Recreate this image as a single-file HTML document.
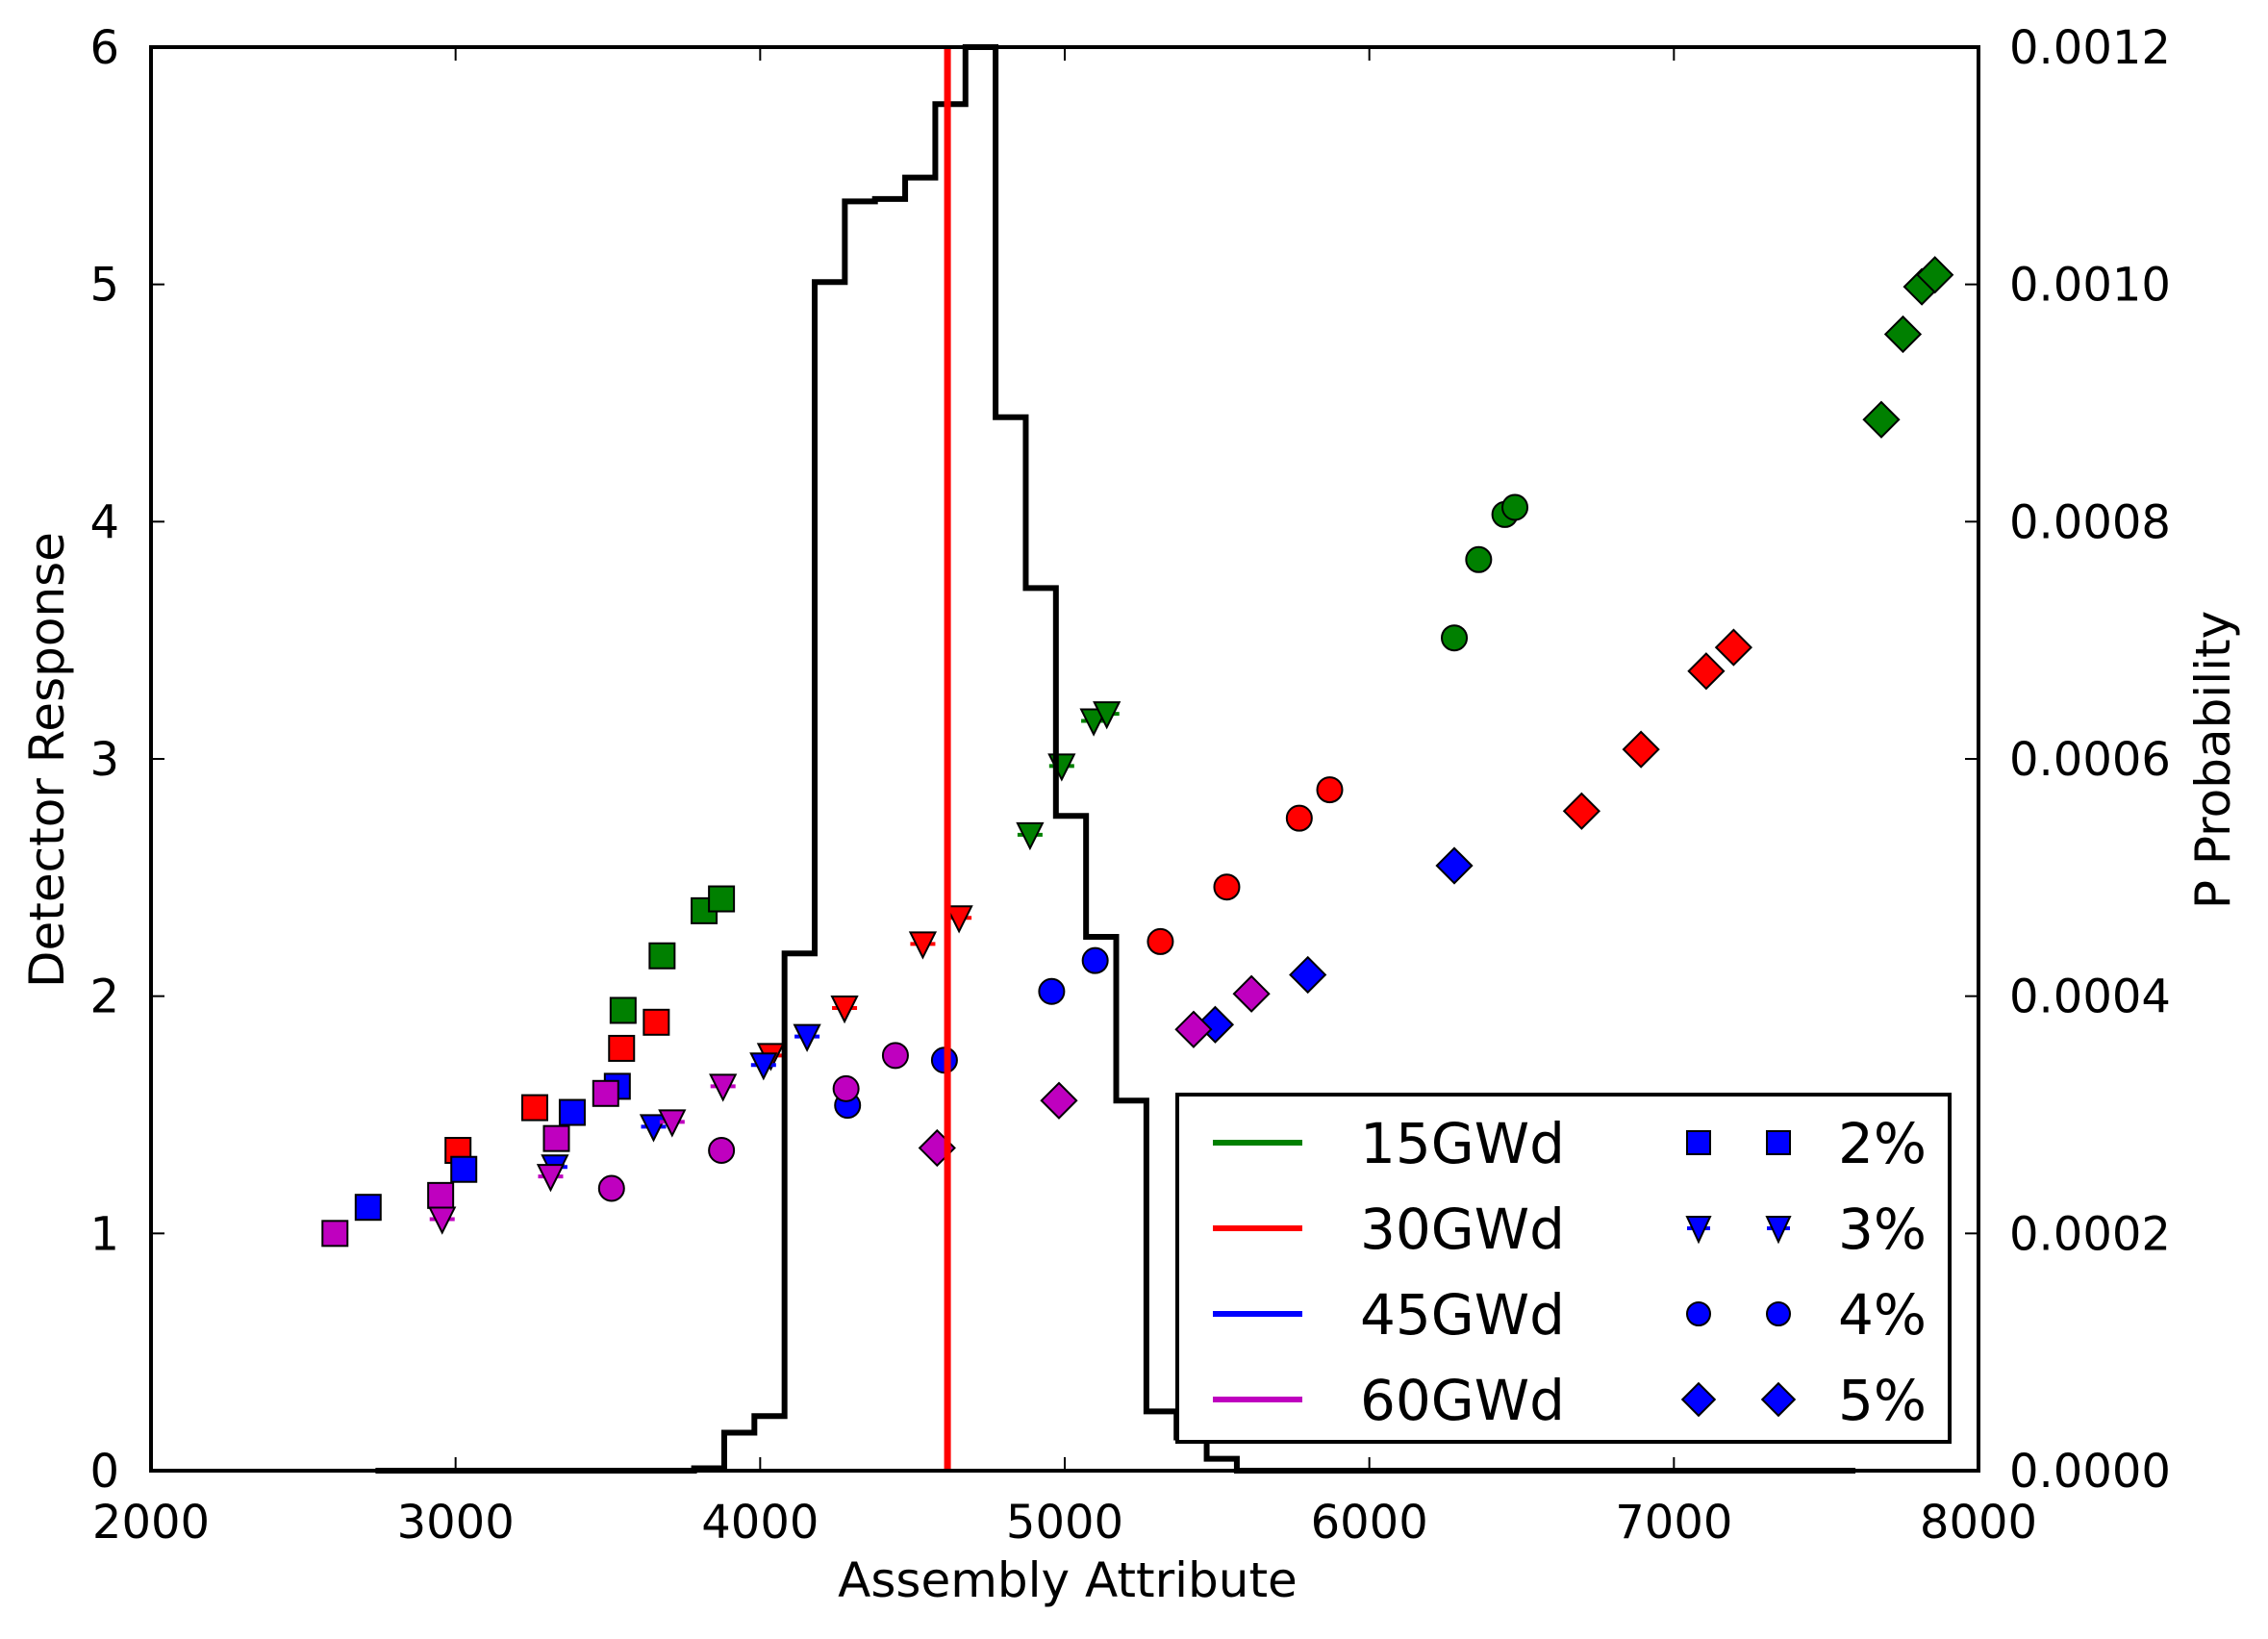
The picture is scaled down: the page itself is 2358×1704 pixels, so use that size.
<!DOCTYPE html>
<html><head><meta charset="utf-8"><style>
html,body{margin:0;padding:0;background:#fff;}
svg text{font-family:"DejaVu Sans","Liberation Sans",sans-serif;fill:#000;}
</style></head><body>
<svg id="chart" width="2358" height="1699" viewBox="0 0 2358 1699" xmlns="http://www.w3.org/2000/svg">
<rect width="2358" height="1699" fill="#fff"/>
<g id="marks"></g>
<g id="hist"></g>
<g id="axes"></g>
<g id="legend"></g>
</svg>
<script>
// ---- data ----
const xTicks = [2000,3000,4000,5000,6000,7000,8000];
const yTicks = [0,1,2,3,4,5,6];
const y2TickLabels = ["0.0000","0.0002","0.0004","0.0006","0.0008","0.0010","0.0012"];
const burnups = ["15GWd","30GWd","45GWd","60GWd"];
const burnupColors = ["#008000","#ff0000","#0000ff","#bf00bf"];
const enrichments = ["2%","3%","4%","5%"];
const markerShapes = ["square","triangle","circle","diamond"];
// series: [enrichment][burnup] -> x values / y values
const sqX = [[3550,3678,3816,3873],[3008,3260,3545,3659],[2713,3027,3383,3531],[2604,2951,3331,3493]];
const sqY = [[1.94,2.17,2.36,2.41],[1.35,1.53,1.78,1.89],[1.11,1.27,1.51,1.62],[1.00,1.16,1.40,1.59]];
const triX = [[4886,4990,5095,5138],[4035,4277,4534,4653],[3326,3650,4011,4154],[2956,3312,3711,3878]];
const triY = [[2.68,2.97,3.16,3.19],[1.75,1.95,2.22,2.33],[1.28,1.45,1.71,1.83],[1.06,1.24,1.47,1.62]];
const cirX = [[6279,6359,6445,6478],[5314,5532,5770,5870],[4287,4605,4957,5100],[3512,3873,4282,4444]];
const cirY = [[3.51,3.84,4.03,4.06],[2.23,2.46,2.75,2.87],[1.54,1.73,2.02,2.15],[1.19,1.35,1.61,1.75]];
const diaX = [[7681,7752,7814,7857],[6697,6892,7106,7196],[5494,5798,6279],[4581,4981,5423,5613]];
const diaY = [[4.43,4.79,4.99,5.04],[2.78,3.04,3.37,3.47],[1.88,2.09,2.55],[1.36,1.56,1.86,2.01]];
const histStart = 3882;
const histWidth = 99;
const histProb = [0.000032,0.000046,0.000436,0.001002,0.00107,0.001072,0.00109,0.001152,0.00132,0.000888,0.000744,0.000552,0.00045,0.000312,0.00005,0.000028,0.00001];
const histZeroStart = 2737;
const histZeroEnd = 7596;
const histPreBin = 0.000002;
const meanLine = 4615;

// ---- scales ----
const L=157,R=2057,T=49,B=1529;
const sx=v=>L+(v-2000)/6000*(R-L);
const sy=v=>B-v/6*(B-T);
const sy2=p=>B-p/0.0012*(B-T);
const NS="http://www.w3.org/2000/svg";
function mk(tag,attrs,parent){const e=document.createElementNS(NS,tag);for(const k in attrs)e.setAttribute(k,attrs[k]);parent.appendChild(e);return e;}

function drawMarker(shape,cx,cy,color,parent,s){
  let e;
  if(shape==="square"){e=mk("rect",{x:cx-s,y:cy-s,width:2*s,height:2*s,fill:color,stroke:"#000","stroke-width":2},parent);}
  else if(shape==="circle"){e=mk("circle",{cx:cx,cy:cy,r:s,fill:color,stroke:"#000","stroke-width":2},parent);}
  else if(shape==="diamond"){const d=s*1.4;e=mk("polygon",{points:`${cx},${cy-d} ${cx+d},${cy} ${cx},${cy+d} ${cx-d},${cy}`,fill:color,stroke:"#000","stroke-width":2},parent);}
  else {
    const ln=mk("line",{x1:cx-s,x2:cx+s,y1:cy,y2:cy,stroke:color,"stroke-width":4},parent);
    
    
    e=mk("polygon",{points:`${cx-s},${cy-12} ${cx+s},${cy-12} ${cx},${cy+14}`,fill:color,stroke:"#000","stroke-width":2},parent);}
  return e;
}

// ---- scatter ----
const marks=document.getElementById("marks");
const sets=[[sqX,sqY],[triX,triY],[cirX,cirY],[diaX,diaY]];
sets.forEach((st,ei)=>{
  st[0].forEach((xs,bi)=>{
    xs.forEach((xv,i)=>{
      const e=drawMarker(markerShapes[ei],sx(xv),sy(st[1][bi][i]),burnupColors[bi],marks,13);
      
      
    });
  });
});

// ---- histogram ----
const hist=document.getElementById("hist");
let d=`M${sx(histZeroStart)},${sy2(0)} L${sx(histStart-histWidth)},${sy2(0)} L${sx(histStart-histWidth)},${sy2(histPreBin)} L${sx(histStart)},${sy2(histPreBin)}`;
histProb.forEach((p,i)=>{
  const x0=sx(histStart+i*histWidth),x1=sx(histStart+(i+1)*histWidth);
  const y=Math.max(sy2(p),T);
  d+=` L${x0},${y} L${x1},${y}`;
});
d+=` L${sx(histStart+histProb.length*histWidth)},${sy2(0)} L${sx(histZeroEnd)},${sy2(0)}`;
const hp=mk("path",{d:d,fill:"none",stroke:"#000","stroke-width":6,"stroke-linejoin":"miter"},hist);


const ml=mk("line",{x1:sx(meanLine),x2:sx(meanLine),y1:T,y2:B,stroke:"#ff0000","stroke-width":7},hist);



// ---- axes ----
const ax=document.getElementById("axes");
const fr=mk("rect",{x:L,y:T,width:R-L,height:B-T,fill:"none",stroke:"#000","stroke-width":4},ax);


xTicks.forEach(v=>{
  const x=sx(v);
  mk("line",{x1:x,x2:x,y1:B,y2:B-14,stroke:"#000","stroke-width":2},ax);
  mk("line",{x1:x,x2:x,y1:T,y2:T+14,stroke:"#000","stroke-width":2},ax);
  const t=mk("text",{x:x,y:1599,"font-size":48,"text-anchor":"middle"},ax);
  t.textContent=v;
  
  
});
yTicks.forEach((v,i)=>{
  const y=sy(v);
  mk("line",{x1:L,x2:L+14,y1:y,y2:y,stroke:"#000","stroke-width":2},ax);
  mk("line",{x1:R,x2:R-14,y1:y,y2:y,stroke:"#000","stroke-width":2},ax);
  const t=mk("text",{x:124,y:y+17,"font-size":48,"text-anchor":"end"},ax);
  t.textContent=v;
  
  
  const t2=mk("text",{x:2089,y:y+17,"font-size":48,"text-anchor":"start"},ax);
  t2.textContent=y2TickLabels[i];
  
  
});
const xt=mk("text",{x:1110,y:1660,"font-size":50,"text-anchor":"middle"},ax);
xt.textContent="Assembly Attribute";


const yt=mk("text",{x:0,y:0,"font-size":50,"text-anchor":"middle",transform:"translate(66,790) rotate(-90)"},ax);
yt.textContent="Detector Response";


const y2t=mk("text",{x:0,y:0,"font-size":50,"text-anchor":"middle",transform:"translate(2318,790) rotate(-90)"},ax);
y2t.textContent="P Probability";



// ---- legend ----
const lg=document.getElementById("legend");
const box=mk("rect",{x:1224,y:1138,width:803,height:361,fill:"#fff",stroke:"#000","stroke-width":4},lg);


const rowsY=[1188,1277,1366,1455];
burnups.forEach((b,i)=>{
  const y=rowsY[i];
  const l=mk("line",{x1:1261,x2:1354,y1:y,y2:y,stroke:burnupColors[i],"stroke-width":6},lg);
  
  
  const t=mk("text",{x:1414,y:y+21,"font-size":58},lg);
  t.textContent=b;
  
  
  [1766,1849].forEach(mx=>{
    const m=drawMarker(markerShapes[i],mx,y,"#0000ff",lg,12);
    
    
  });
  const t2=mk("text",{x:1911,y:y+21,"font-size":58},lg);
  t2.textContent=enrichments[i];
  
  
});
</script>
</body></html>
